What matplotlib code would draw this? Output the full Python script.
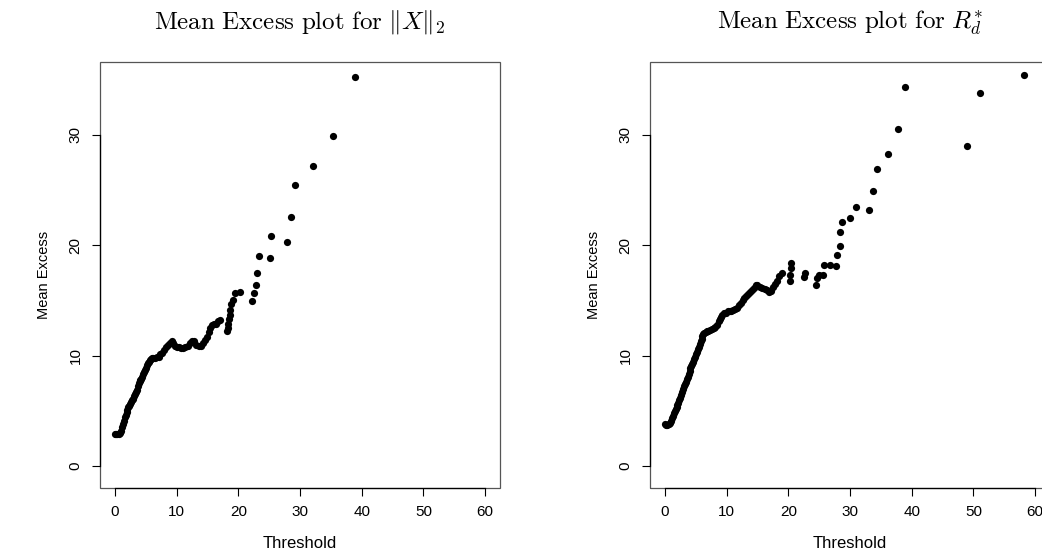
import matplotlib
matplotlib.use("Agg")
import matplotlib.pyplot as plt
from matplotlib.patches import Rectangle

plt.rcParams['mathtext.fontset'] = 'cm'
plt.rcParams['font.family'] = ['Liberation Sans', 'DejaVu Sans']

# Mean excess of ||X||_2 (threshold, mean excess)
thr_x = [0.0, 0.2, 0.4, 0.6, 0.8, 1.0, 1.15, 1.3, 1.45, 1.6, 1.75, 1.9, 2.05,
         2.2, 2.35, 2.5, 2.65, 2.8, 2.95, 3.1, 3.25, 3.4, 3.55, 3.7, 3.85, 4.0,
         4.15, 4.3, 4.45, 4.6, 4.75, 4.9, 5.05, 5.2, 5.35, 5.5, 5.65, 5.8, 5.95,
         6.2, 6.5, 6.8, 7.1, 7.4, 7.7, 8.0, 8.3, 8.6, 8.9, 9.2, 9.5, 9.8, 10.1,
         10.4, 10.7, 11.0, 11.4, 11.8, 12.2, 12.5, 12.8, 13.2, 13.6, 14.0, 14.3,
         14.6, 14.9, 15.2, 15.4, 15.7, 16.0, 16.4, 16.7, 17.0,
         18.2, 18.3, 18.4, 18.5, 18.6, 18.7, 18.8, 19.1, 19.5, 20.2,
         22.2, 22.5, 22.9, 23.1, 23.3, 25.1, 25.3, 27.9, 28.6, 29.2, 32.1, 35.4, 38.9]
me_x = [2.9, 2.85, 2.85, 2.9, 3.0, 3.2, 3.5, 3.8, 4.1, 4.4, 4.6, 4.9, 5.1,
        5.3, 5.4, 5.6, 5.8, 6.0, 6.1, 6.3, 6.5, 6.7, 6.9, 7.2, 7.5, 7.7,
        7.8, 7.9, 8.1, 8.3, 8.5, 8.7, 8.9, 9.1, 9.3, 9.4, 9.6, 9.7, 9.8,
        9.8, 9.8, 9.9, 9.9, 10.1, 10.2, 10.5, 10.8, 11.0, 11.1, 11.3, 11.1, 10.9, 10.8,
        10.8, 10.7, 10.7, 10.8, 10.9, 11.1, 11.3, 11.3, 11.0, 10.9, 10.9, 11.1,
        11.4, 11.7, 12.1, 12.5, 12.8, 12.9, 12.9, 13.1, 13.2,
        12.2, 12.5, 12.9, 13.3, 13.7, 14.1, 14.7, 15.0, 15.7, 15.8,
        14.9, 15.7, 16.4, 17.5, 19.0, 18.8, 20.8, 20.3, 22.6, 25.5, 27.2, 29.9, 35.2]

# Mean excess of R_d^*
thr_r = [0.0, 0.2, 0.4, 0.6, 0.8, 1.0, 1.15, 1.3, 1.45, 1.6, 1.75, 1.9, 2.05,
         2.2, 2.35, 2.5, 2.65, 2.8, 2.95, 3.1, 3.25, 3.4, 3.55, 3.7, 3.85, 4.0,
         4.15, 4.3, 4.45, 4.6, 4.75, 4.9, 5.05, 5.2, 5.35, 5.5, 5.65, 5.8, 5.95,
         6.1, 6.25, 6.4, 6.6, 6.8, 7.0, 7.3, 7.6, 7.9, 8.2, 8.5, 8.7, 8.9, 9.1,
         9.3, 9.6, 9.9, 10.2, 10.5, 10.8, 11.1, 11.4, 11.7, 12.0, 12.3, 12.6,
         12.9, 13.2, 13.5, 13.8, 14.1, 14.4, 14.7, 15.0, 15.4, 15.8, 16.2, 16.6,
         16.9, 17.2, 17.5, 17.8, 18.1, 18.5, 19.0,
         20.3, 20.3, 20.5, 20.5, 22.5, 22.7, 24.5, 24.6, 25.0, 25.7, 25.8, 26.7,
         27.8, 27.9, 28.3, 28.3, 28.75, 30.05, 30.9, 33.1, 33.75, 34.4, 36.1,
         37.8, 38.9, 49.0, 51.0, 58.2]
me_r = [3.8, 3.75, 3.75, 3.8, 3.9, 4.05, 4.3, 4.55, 4.8, 5.0, 5.2, 5.35, 5.5,
        5.7, 5.95, 6.2, 6.45, 6.7, 6.95, 7.2, 7.4, 7.6, 7.85, 8.1, 8.35, 8.6,
        8.85, 9.05, 9.25, 9.45, 9.7, 9.9, 10.1, 10.35, 10.6, 10.8, 11.05, 11.3, 11.5,
        11.75, 11.95, 12.05, 12.15, 12.2, 12.25, 12.3, 12.4, 12.5, 12.6, 12.8, 13.1, 13.3, 13.5,
        13.7, 13.85, 13.9, 14.0, 14.0, 14.05, 14.1, 14.2, 14.35, 14.55, 14.8, 15.0,
        15.2, 15.4, 15.6, 15.75, 15.95, 16.15, 16.35, 16.35, 16.25, 16.15, 16.0, 15.9,
        15.75, 15.85, 16.2, 16.5, 16.75, 17.2, 17.5,
        16.8, 17.3, 17.9, 18.4, 17.1, 17.5, 16.4, 17.0, 17.3, 17.3, 18.25, 18.25,
        18.1, 19.1, 19.9, 21.2, 22.1, 22.5, 23.5, 23.2, 24.9, 26.9, 28.3,
        30.5, 34.3, 29.0, 33.8, 35.4]

titles = [r'$\mathrm{Mean\ Excess\ plot\ for}\ \Vert X\Vert_2$',
          r'$\mathrm{Mean\ Excess\ plot\ for}\ R_d^{*}$']
x_ticks = [0, 10, 20, 30, 40, 50, 60]
y_ticks = [0, 10, 20, 30]

fig = plt.figure(figsize=(10.42, 5.55), dpi=100)
W, H = 1042.0, 555.0
ax1 = fig.add_axes([100 / W, 1 - 488 / H, 400 / W, 426 / H])
ax2 = fig.add_axes([650 / W, 1 - 488 / H, 400 / W, 426 / H])

for ax, xs, ys, title in [(ax1, thr_x, me_x, titles[0]), (ax2, thr_r, me_r, titles[1])]:
    ax.plot(xs, ys, 'o', color='black', markersize=5.2, markeredgewidth=0)
    ax.set_xlim(-2.4, 62.4)
    ax.set_ylim(-2.0, 36.6)
    for s in ['top', 'right']:
        ax.spines[s].set_visible(False)
    ax.spines['left'].set_bounds(0, 30)
    ax.spines['bottom'].set_bounds(0, 60)
    ax.spines['left'].set_linewidth(0.9)
    ax.spines['bottom'].set_linewidth(0.9)
    ax.add_patch(Rectangle((0, 0), 1, 1, transform=ax.transAxes, fill=False,
                           edgecolor='#555555', linewidth=0.9, clip_on=False))
    ax.set_xticks(x_ticks)
    ax.set_yticks(y_ticks)
    ax.tick_params(direction='out', length=5.5, width=0.8, pad=7)
    ax.tick_params(axis='x', labelsize=11)
    ax.tick_params(axis='y', labelsize=11)
    for lab in ax.get_yticklabels():
        lab.set_rotation(90)
        lab.set_va('center')
    ax.set_xlabel('Threshold', fontsize=12, labelpad=12)
    ax.set_ylabel('Mean Excess', fontsize=10.5, labelpad=13)
    ax.set_title(title, fontsize=18, pad=24)

fig.savefig('out.png', dpi=100)
